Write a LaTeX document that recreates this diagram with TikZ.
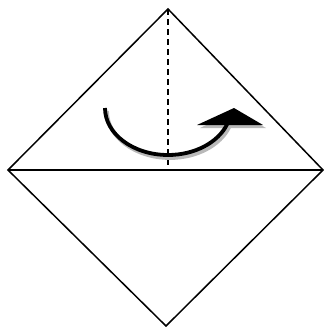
\documentclass[tikz,border=0pt]{standalone}
\begin{document}
\begin{tikzpicture}[x=1pt,y=-1pt,
  edge/.style={line width=1.5pt,black},
  crease/.style={line width=1.5pt,dash pattern=on 6pt off 4pt},
  foldarrow/.style={line width=3.8pt},
  shadowc/.style={gray!55}]
\useasboundingbox (0,0) rectangle (324,327);
\coordinate (T) at (168,9);
\coordinate (L) at (8,170);
\coordinate (R) at (323,170);
\coordinate (B) at (166,326);
\coordinate (M) at (168,170);
\draw[edge] (L) -- (T) -- (R) -- (B) -- cycle;
\draw[edge] (L) -- (R);
\draw[crease] (T) -- (M);
% shadow
\begin{scope}[shift={(2,3)}]
\draw[foldarrow,shadowc] (105,108) arc[start angle=180,end angle=20,x radius=63,y radius=47];
\fill[shadowc] (234,108) -- (264,125) -- (198,125) -- cycle;
\end{scope}
% arrow
\draw[foldarrow,black] (105,108) arc[start angle=180,end angle=20,x radius=63,y radius=47];
\fill[black] (234,108) -- (263,125) -- (197,125) -- cycle;
\end{tikzpicture}
\end{document}
